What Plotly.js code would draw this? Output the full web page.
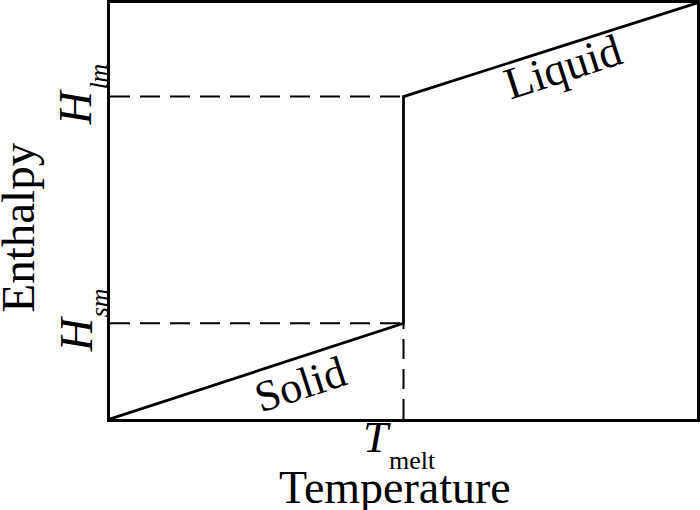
<!DOCTYPE html>
<html>
<head>
<meta charset="utf-8">
<script src="https://cdn.plot.ly/plotly-3.0.1.min.js"></script>
<style>html,body{margin:0;padding:0;background:#fff;}#chart{width:700px;height:510px;}</style>
</head>
<body>
<div id="chart"></div>
<script>
// Data (arbitrary units)
const temperature = [0, 5, 5, 10];          // T start, T melt, T melt, T end
const enthalpy    = [0, 2.3, 7.75, 10];     // H start, H_sm, H_lm, H end
const tMelt = 5;
const hSolidMelt = 2.3;   // H_sm
const hLiquidMelt = 7.75; // H_lm
const yTickMain = ['H', 'H'];
const yTickSub  = ['sm', 'lm'];
const xTickMain = 'T';
const xTickSub  = 'melt';
const phaseLabels = ['Solid', 'Liquid'];
const xTitle = 'Temperature';
const yTitle = 'Enthalpy';

const FONT = 'Liberation Serif, Times New Roman, serif';
const dashStyle = {color: '#000', width: 2, dash: '20px,10px'};

const traces = [
  {x: [0, tMelt], y: [hLiquidMelt, hLiquidMelt], mode: 'lines', line: dashStyle, hoverinfo: 'skip'},
  {x: [0, tMelt], y: [hSolidMelt, hSolidMelt], mode: 'lines', line: dashStyle, hoverinfo: 'skip'},
  {x: [tMelt, tMelt], y: [0, hSolidMelt], mode: 'lines', line: dashStyle, hoverinfo: 'skip'},
  {x: temperature, y: enthalpy, mode: 'lines', line: {color: '#000', width: 2.8}}
];

function txt(extra) {
  return Object.assign({showarrow: false, xanchor: 'center', yanchor: 'middle'}, extra);
}

const annotations = [];
// y "tick" labels H_sm, H_lm (rotated)
[hSolidMelt, hLiquidMelt].forEach((h, i) => {
  annotations.push(txt({xref: 'paper', yref: 'y', x: 0, y: h, xshift: -34, yshift: -11,
    text: '<i>' + yTickMain[i] + '</i>', textangle: -90,
    font: {family: FONT, size: 46, color: '#000'}}));
  annotations.push(txt({xref: 'paper', yref: 'y', x: 0, y: h, xshift: -11, yshift: 20,
    text: '<i>' + yTickSub[i] + '</i>', textangle: -90,
    font: {family: FONT, size: 26, color: '#000'}}));
});
// x "tick" label T_melt
annotations.push(txt({xref: 'x', yref: 'paper', x: tMelt, y: 0, xshift: -27, yshift: -17.5,
  text: '<i>' + xTickMain + '</i>', font: {family: FONT, size: 45, color: '#000'}}));
annotations.push(txt({xref: 'x', yref: 'paper', x: tMelt, y: 0, xshift: 8.5, yshift: -41,
  text: xTickSub, font: {family: FONT, size: 26, color: '#000'}}));
// axis titles
annotations.push(txt({xref: 'paper', yref: 'paper', x: 0.4855, y: 0, yshift: -68,
  text: xTitle, font: {family: FONT, size: 46, color: '#000'}}));
annotations.push(txt({xref: 'paper', yref: 'paper', x: 0, y: 0.4603, xshift: -92,
  text: yTitle, textangle: -90, font: {family: FONT, size: 47, color: '#000'}}));
// phase labels
annotations.push(txt({xref: 'x', yref: 'y', x: 3.25, y: 0.82, text: phaseLabels[0],
  textangle: -18, font: {family: FONT, size: 44, color: '#000'}}));
annotations.push(txt({xref: 'x', yref: 'y', x: 7.72, y: 8.46, text: phaseLabels[1],
  textangle: -18, font: {family: FONT, size: 45, color: '#000'}}));

const layout = {
  width: 700, height: 510,
  margin: {l: 110, r: 3, t: 3, b: 91},
  paper_bgcolor: '#fff', plot_bgcolor: '#fff',
  showlegend: false,
  font: {family: FONT, color: '#000'},
  xaxis: {
    range: [0, 10], showgrid: false, zeroline: false,
    showline: true, mirror: true, linecolor: '#000', linewidth: 3,
    showticklabels: false, ticks: ''
  },
  yaxis: {
    range: [0, 10], showgrid: false, zeroline: false,
    showline: true, mirror: true, linecolor: '#000', linewidth: 3,
    showticklabels: false, ticks: ''
  },
  annotations: annotations
};

Plotly.newPlot('chart', traces, layout, {staticPlot: true});
</script>
</body>
</html>
